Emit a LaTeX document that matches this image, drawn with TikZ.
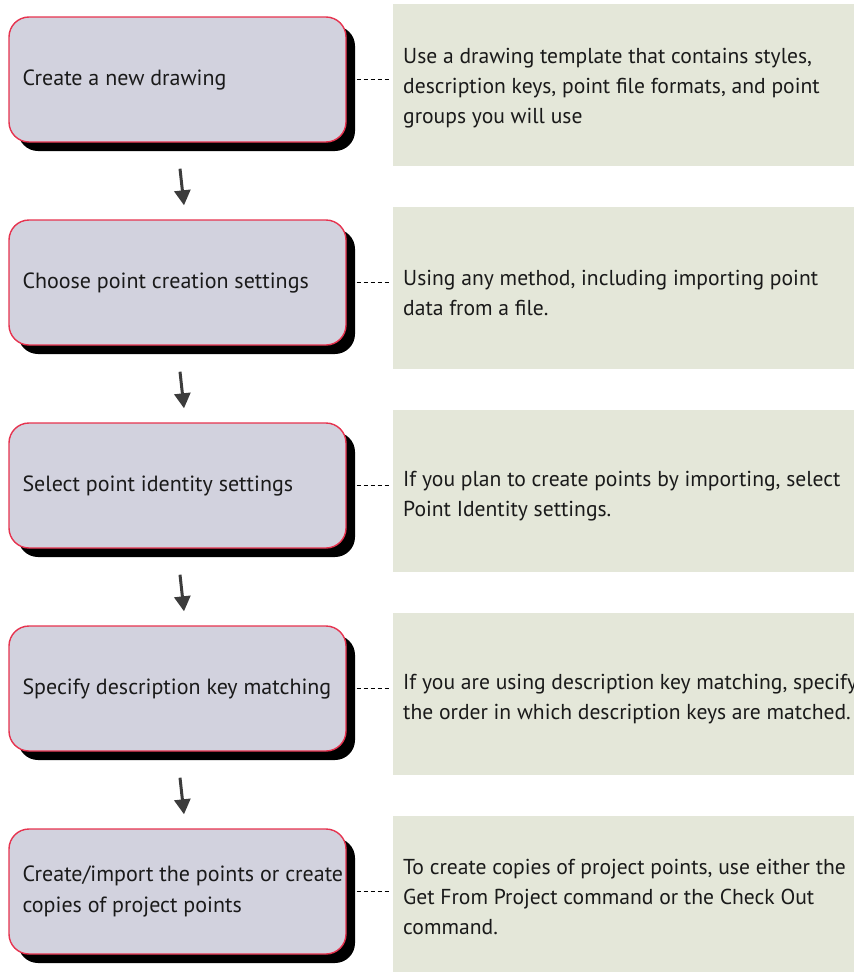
\documentclass[tikz,border=0pt]{standalone}
\usepackage{fontspec}
\setmainfont{PT Sans}
\usetikzlibrary{arrows.meta,shadows}

\definecolor{stepfill}{HTML}{D2D2DE}
\definecolor{stepedge}{HTML}{E6334F}
\definecolor{notefill}{HTML}{E4E7D9}
\definecolor{inktext}{HTML}{1A1A1A}
\definecolor{arrowgray}{HTML}{3C3C3C}

\tikzset{
  stepbox/.style={rectangle, rounded corners=20pt, draw=stepedge, line width=1.4pt,
    fill=stepfill, minimum width=337pt, minimum height=125pt, inner sep=0pt,
    drop shadow={shadow xshift=9pt, shadow yshift=-9pt, opacity=1, fill=black}},
  steptext/.style={anchor=west, align=left, inner sep=0pt, text=inktext,
    font=\fontsize{22pt}{31pt}\selectfont},
  notebox/.style={rectangle, fill=notefill, minimum width=461pt, minimum height=162pt,
    inner sep=0pt, anchor=north west},
  notetext/.style={anchor=west, align=left, inner sep=0pt, text=inktext,
    font=\fontsize{21.6pt}{30pt}\selectfont},
  link/.style={draw=black, line width=0.9pt, dash pattern=on 4pt off 3pt},
  flow/.style={draw=arrowgray, line width=3pt,
    -{Triangle[length=15pt,width=16pt]}, shorten >=0pt}
}

\begin{document}
\begin{tikzpicture}[x=1pt,y=-1pt]
\useasboundingbox (0,0) rectangle (854,972);

% description panels on the right
\node[notebox] (g1) at (393,4) {};
\node[notebox] (g2) at (393,207) {};
\node[notebox] (g3) at (393,410) {};
\node[notebox] (g4) at (393,613) {};
\node[notebox] (g5) at (393,816) {};

% workflow steps on the left
\node[stepbox] (b1) at (177.5,79.5) {};
\node[stepbox] (b2) at (177.5,282.5) {};
\node[stepbox] (b3) at (177.5,485.5) {};
\node[stepbox] (b4) at (177.5,688.5) {};
\node[stepbox] (b5) at (177.5,891.5) {};

\node[steptext] (s1) at ([xshift=14pt]b1.west) {Create a new drawing};
\node[steptext] (s2) at ([xshift=14pt]b2.west) {Choose point creation settings};
\node[steptext] (s3) at ([xshift=14pt]b3.west) {Select point identity settings};
\node[steptext] (s4) at ([xshift=14pt]b4.west) {Specify description key matching};
\node[steptext] (s5) at ([xshift=14pt]b5.west) {Create/import the points or create\\copies of project points};

% texts of the description panels
\node[notetext] (n1) at ([xshift=10pt,yshift=-3pt]g1.west) {Use a drawing template that contains styles,\\description keys, point file formats, and point\\groups you will use};
\node[notetext] (n2) at ([xshift=10pt,yshift=-5pt]g2.west) {Using any method, including importing point\\data from a file.};
\node[notetext] (n3) at ([xshift=10pt,yshift=-5pt]g3.west) {If you plan to create points by importing, select\\Point Identity settings.};
\node[notetext] (n4) at ([xshift=10pt,yshift=-5pt]g4.west) {If you are using description key matching, specify\\the order in which description keys are matched.};
\node[notetext] (n5) at ([xshift=10pt,yshift=0pt]g5.west) {To create copies of project points, use either the\\Get From Project command or the Check Out\\command.};

% dashed leaders from each step to its panel
\foreach \i in {1,...,5}{
  \draw[link] ([xshift=10pt]b\i.east) -- ([xshift=-3pt]g\i.west |- b\i.east);
}

% arrows between consecutive steps
\foreach \i/\j in {1/2,2/3,3/4,4/5}{
  \draw[flow] ([xshift=2.5pt,yshift=-26pt]b\i.south) -- ([xshift=6.5pt,yshift=14pt]b\j.north);
}
\end{tikzpicture}
\end{document}
